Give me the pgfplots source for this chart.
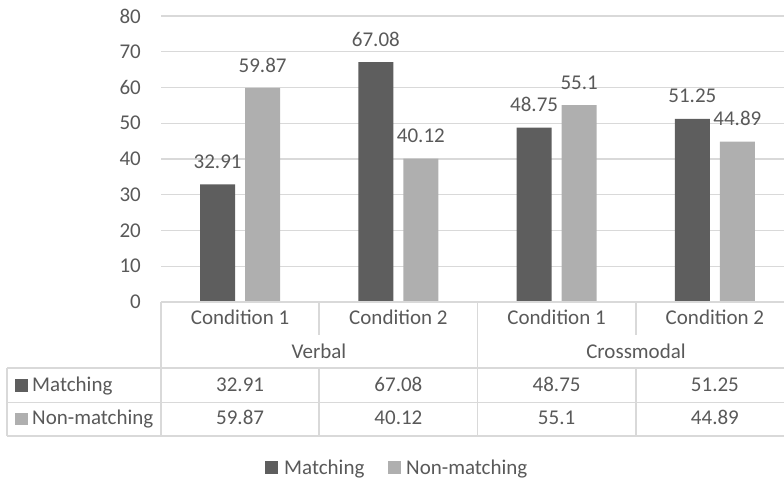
\documentclass[border=0pt]{standalone}
\usepackage{pgfplots}
\pgfplotsset{compat=1.18}
\usepackage{fontspec}
\setmainfont{Carlito}
\definecolor{txt}{HTML}{595959}
\definecolor{gridc}{HTML}{D9D9D9}
\definecolor{darkbar}{HTML}{5E5E5E}
\definecolor{lightbar}{HTML}{AFAFAF}
\newcommand{\chartfont}{\fontsize{21bp}{25bp}\selectfont}

\begin{document}
\begin{tikzpicture}[x=1bp,y=1bp,font=\chartfont,text=txt]
\useasboundingbox (0,0) rectangle (784,480);
\begin{axis}[
  at={(161bp,178bp)}, anchor=south west,
  scale only axis, width=633bp, height=286bp,
  xmin=-0.5, xmax=3.5, ymin=0, ymax=80,
  ytick={0,10,...,80}, xtick=\empty,
  axis line style={draw=none},
  major tick length=0pt,
  ymajorgrids, grid style={gridc, line width=1.1bp},
  every tick label/.append style={font=\chartfont, text=txt},
  yticklabel style={anchor=east, inner sep=0pt, xshift=-20bp},
  /pgf/number format/assume math mode=true,
  bar width=35bp,
  nodes near coords,
  every node near coord/.append style={anchor=south, inner sep=0pt, yshift=15.5bp, font=\chartfont, text=txt},
  clip=false,
]
% Matching
\addplot[ybar, fill=darkbar, draw=none, bar shift=-22.5bp,
  every node near coord/.append style={xshift=-22.5bp}]
  coordinates {(0,32.91) (1,67.08) (2,48.75) (3,51.25)};
% Non-matching
\addplot[ybar, fill=lightbar, draw=none, bar shift=22.5bp,
  every node near coord/.append style={xshift=22.5bp}]
  coordinates {(0,59.87) (1,40.12) (2,55.1) (3,44.89)};
\end{axis}

% data table below the plot
\begin{scope}[gridc, line width=1.2bp]
  \draw (161,178) -- (794,178);
  \draw (7,112) -- (794,112);
  \draw (7,77.5) -- (794,77.5);
  \draw (7,44) -- (794,44);
  \draw (7,44) -- (7,112);
  \draw (161,44) -- (161,178);
  \draw (477.7,44) -- (477.7,178);
  \draw (319,145) -- (319,178);
  \draw (636,145) -- (636,178);
  \draw (319,44) -- (319,112);
  \draw (636,44) -- (636,112);
\end{scope}

\node[anchor=base, inner sep=0pt] at (240.1,155.5) {Condition 1};
\node[anchor=base, inner sep=0pt] at (398.4,155.5) {Condition 2};
\node[anchor=base, inner sep=0pt] at (556.6,155.5) {Condition 1};
\node[anchor=base, inner sep=0pt] at (714.9,155.5) {Condition 2};
\node[anchor=base, inner sep=0pt] at (319,121.5) {Verbal};
\node[anchor=base, inner sep=0pt] at (636,121.5) {Crossmodal};

\fill[darkbar] (15,88.3) rectangle (28.3,100.7);
\node[anchor=base west, inner sep=0pt] at (32,88.3) {Matching};
\fill[lightbar] (15,55) rectangle (28.3,67.4);
\node[anchor=base west, inner sep=0pt] at (32,55) {Non-matching};

\node[anchor=base, inner sep=0pt] at (240.1,88.3) {32.91};
\node[anchor=base, inner sep=0pt] at (398.4,88.3) {67.08};
\node[anchor=base, inner sep=0pt] at (556.6,88.3) {48.75};
\node[anchor=base, inner sep=0pt] at (714.9,88.3) {51.25};
\node[anchor=base, inner sep=0pt] at (240.1,55) {59.87};
\node[anchor=base, inner sep=0pt] at (398.4,55) {40.12};
\node[anchor=base, inner sep=0pt] at (556.6,55) {55.1};
\node[anchor=base, inner sep=0pt] at (714.9,55) {44.89};

% legend
\fill[darkbar] (265,5.5) rectangle (278,18.5);
\node[anchor=base west, inner sep=0pt] at (284,5.5) {Matching};
\fill[lightbar] (388.3,5.5) rectangle (401.3,18.5);
\node[anchor=base west, inner sep=0pt] at (406,5.5) {Non-matching};
\end{tikzpicture}
\end{document}
